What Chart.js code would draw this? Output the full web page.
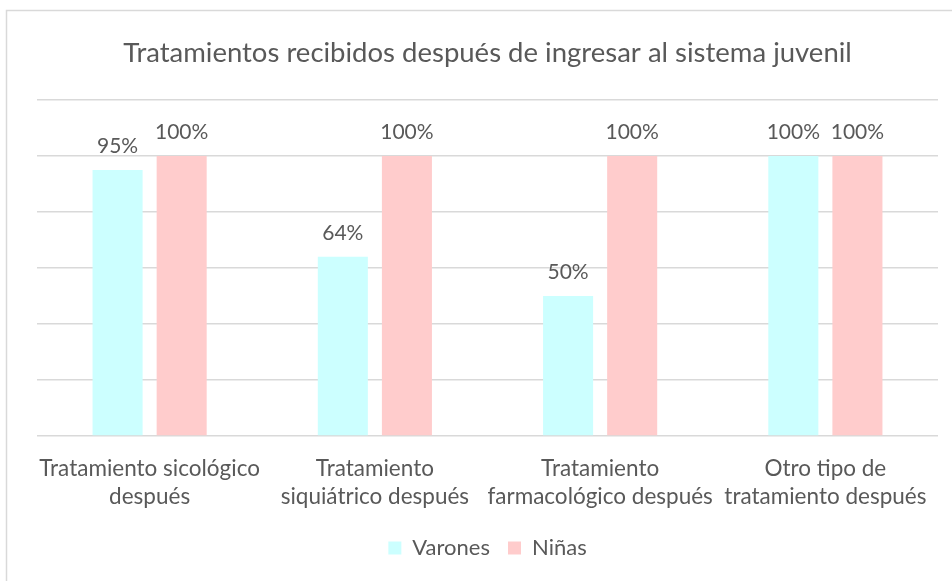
<!DOCTYPE html>
<html>
<head>
<meta charset="utf-8">
<script src="https://cdn.jsdelivr.net/npm/chart.js@4.4.1/dist/chart.umd.min.js"></script>
<style>
  html, body { margin: 0; padding: 0; background: #ffffff; }
  #wrap { position: absolute; left: 0; top: 0; width: 952px; height: 581px; }
</style>
</head>
<body>
<div id="wrap"><canvas id="chart" width="952" height="581"></canvas></div>
<script>
const categories = [
  ['Tratamiento sicológico', 'después'],
  ['Tratamiento', 'siquiátrico después'],
  ['Tratamiento', 'farmacológico después'],
  ['Otro tipo de', 'tratamiento después']
];
const varones = [95, 64, 50, 100];
const ninas = [100, 100, 100, 100];
const seriesNames = ['Varones', 'Niñas'];
const titleText = 'Tratamientos recibidos después de ingresar al sistema juvenil';

const TEXT = '#595959';
const GRID = '#D9D9D9';
const FONT = 'Lato, "Open Sans", sans-serif';

// White page plus the thin frame around the chart
const framePlugin = {
  id: 'frame',
  beforeDraw(chart) {
    const ctx = chart.ctx;
    ctx.save();
    ctx.fillStyle = '#ffffff';
    ctx.fillRect(0, 0, chart.width, chart.height);
    ctx.strokeStyle = GRID;
    ctx.lineWidth = 1.5;
    ctx.beginPath();
    ctx.moveTo(6.5, chart.height);
    ctx.lineTo(6.5, 10.5);
    ctx.lineTo(chart.width, 10.5);
    ctx.stroke();
    ctx.restore();
  }
};

// Percent labels above each bar
const valueLabels = {
  id: 'valueLabels',
  afterDatasetsDraw(chart) {
    const ctx = chart.ctx;
    ctx.save();
    ctx.fillStyle = TEXT;
    ctx.font = '21px ' + FONT;
    ctx.textAlign = 'center';
    ctx.textBaseline = 'alphabetic';
    chart.data.datasets.forEach((ds, i) => {
      chart.getDatasetMeta(i).data.forEach((bar, j) => {
        ctx.fillText(ds.data[j] + '%', bar.x, bar.y - 17);
      });
    });
    ctx.restore();
  }
};

new Chart(document.getElementById('chart'), {
  type: 'bar',
  data: {
    labels: categories,
    datasets: [
      { label: seriesNames[0], data: varones, backgroundColor: '#CCFFFF' },
      { label: seriesNames[1], data: ninas, backgroundColor: '#FFCCCC' }
    ]
  },
  options: {
    responsive: false,
    animation: false,
    devicePixelRatio: 1,
    categoryPercentage: 0.569,
    barPercentage: 0.781,
    layout: { padding: { left: 37, right: 14, top: 10, bottom: 12 } },
    plugins: {
      title: {
        display: true,
        text: titleText,
        color: TEXT,
        font: { family: FONT, size: 27.5, weight: 'normal', lineHeight: 1.2 },
        padding: { top: 27, bottom: 30 }
      },
      legend: {
        position: 'bottom',
        labels: {
          color: TEXT,
          font: { family: FONT, size: 22 },
          boxWidth: 13,
          boxHeight: 13,
          padding: 18
        }
      },
      tooltip: { enabled: false }
    },
    scales: {
      x: {
        grid: { display: false },
        border: { display: false },
        ticks: {
          color: TEXT,
          font: { family: FONT, size: 22.5, lineHeight: 1.245 },
          padding: 11,
          maxRotation: 0,
          autoSkip: false
        },
        afterFit(scale) { scale.height = 83; }
      },
      y: {
        min: 0,
        max: 120,
        ticks: { display: false, stepSize: 20 },
        grid: { color: GRID, lineWidth: 1.5, drawTicks: false },
        border: { display: false }
      }
    }
  },
  plugins: [framePlugin, valueLabels]
});
</script>
</body>
</html>
